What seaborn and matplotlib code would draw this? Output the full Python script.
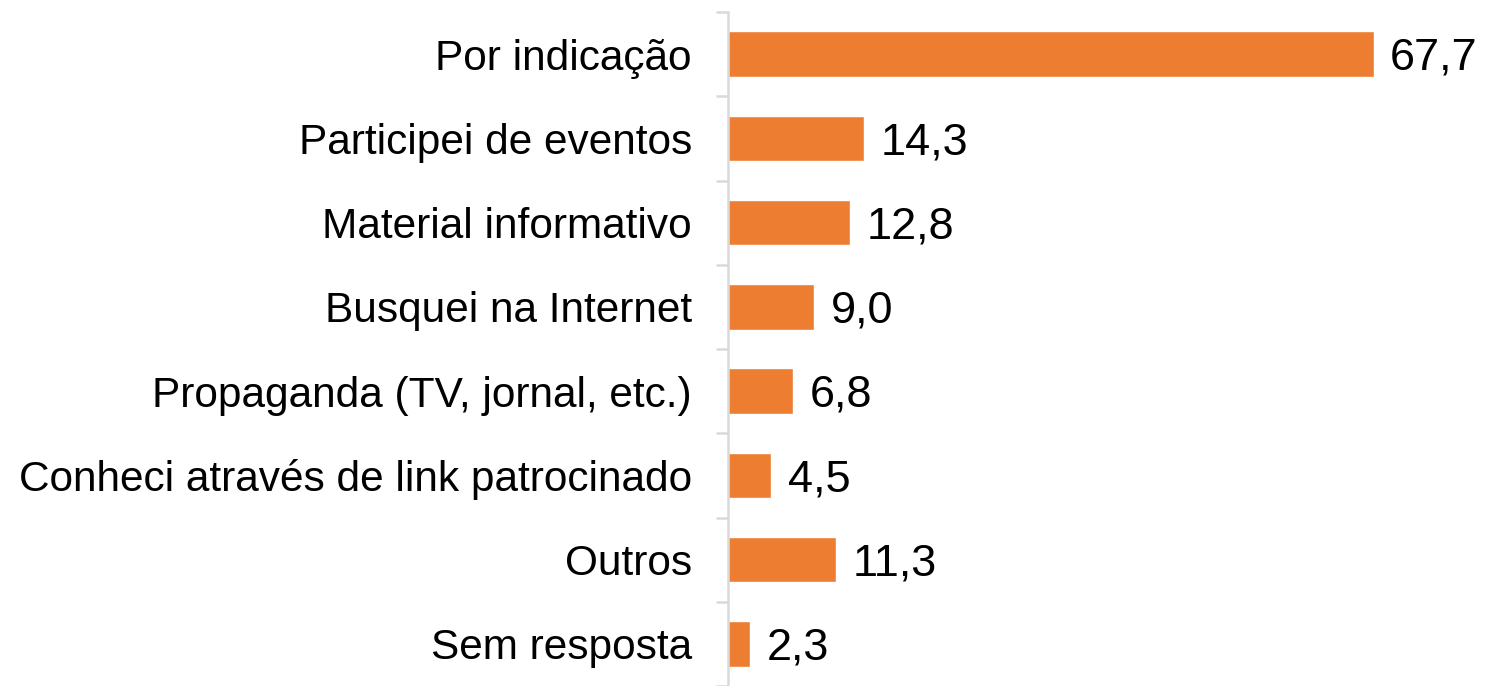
import numpy as np
import pandas as pd
import seaborn as sns
import matplotlib.pyplot as plt

categorias = ['Por indicação', 'Participei de eventos', 'Material informativo',
              'Busquei na Internet', 'Propaganda (TV, jornal, etc.)',
              'Conheci através de link patrocinado', 'Outros', 'Sem resposta']
valores = [67.7, 14.3, 12.8, 9.0, 6.8, 4.5, 11.3, 2.3]

df = pd.DataFrame({'categoria': categorias, 'valor': valores})

sns.set_style('white')
plt.rcParams['font.family'] = ['Liberation Sans', 'DejaVu Sans']
plt.rcParams['text.color'] = 'black'
plt.rcParams['ytick.color'] = 'black'

fig = plt.figure(figsize=(14.87, 6.86), dpi=100)
ax = fig.add_axes([0.4896, 0.0, 0.5104, 0.9825])

sns.barplot(data=df, x='valor', y='categoria', orient='h', color='#ED7D31',
            width=0.54, saturation=1, ax=ax)

ax.set_xlim(0, 79.6)
ax.set_ylim(len(categorias) - 0.5, -0.5)
ax.set_xlabel('')
ax.set_ylabel('')
ax.set_xticks([])

# linhas divisórias entre categorias
ax.set_yticks(np.arange(-0.5, len(categorias)), minor=True)
ax.tick_params(axis='y', which='major', left=False, length=0, pad=26,
               labelsize=30.5, labelcolor='black')
ax.tick_params(axis='y', which='minor', left=True, length=9, width=1.8,
               color='#D9D9D9')

for s in ['top', 'right', 'bottom']:
    ax.spines[s].set_visible(False)
ax.spines['left'].set_color('#D9D9D9')
ax.spines['left'].set_linewidth(1.8)

# rótulos de valor
for barra, v in zip(ax.patches, valores):
    ax.annotate(f'{v:.1f}'.replace('.', ','),
                (barra.get_width(), barra.get_y() + barra.get_height() / 2),
                xytext=(12, -3), textcoords='offset points',
                ha='left', va='center', fontsize=32.5, color='black')

fig.savefig('out.png', dpi=100)
